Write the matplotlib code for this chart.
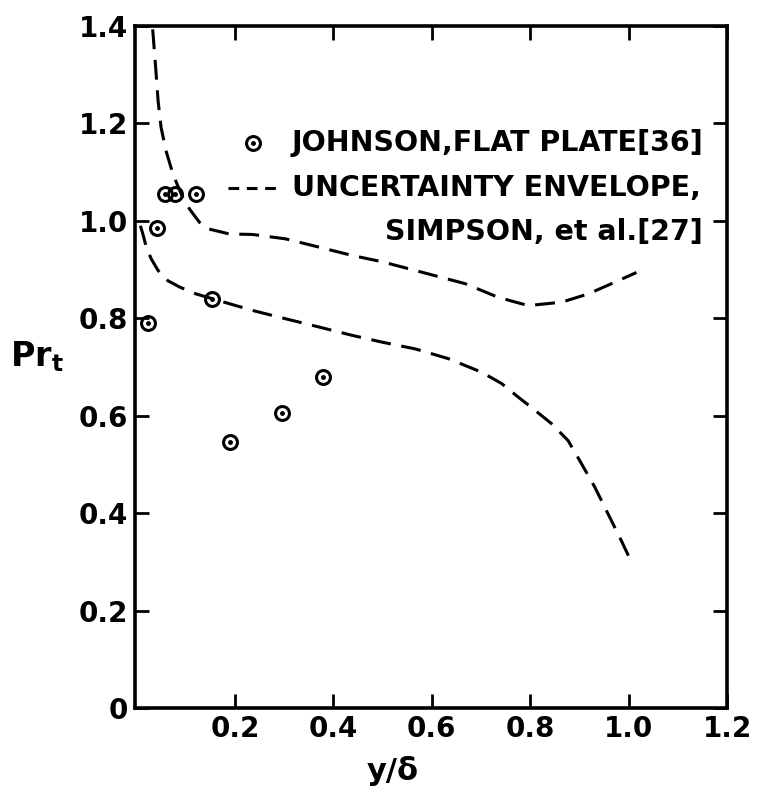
import matplotlib
matplotlib.use("Agg")
import matplotlib.pyplot as plt
from matplotlib.lines import Line2D

# Johnson, flat plate [36]
johnson_x = [0.023, 0.041, 0.058, 0.078, 0.122, 0.153, 0.19, 0.295, 0.38]
johnson_y = [0.79, 0.986, 1.055, 1.055, 1.055, 0.84, 0.545, 0.605, 0.68]

# uncertainty envelope, Simpson et al. [27]
upper_x = [0.033, 0.039, 0.044, 0.050, 0.060, 0.070, 0.081, 0.094, 0.108, 0.128,
           0.148, 0.189, 0.236, 0.303, 0.371, 0.438, 0.499, 0.567, 0.668, 0.735,
           0.796, 0.864, 0.918, 0.972, 1.016]
upper_y = [1.393, 1.315, 1.246, 1.192, 1.144, 1.110, 1.079, 1.048, 1.024, 0.997,
           0.983, 0.973, 0.972, 0.963, 0.946, 0.929, 0.916, 0.898, 0.871, 0.843,
           0.826, 0.833, 0.850, 0.874, 0.894]

lower_x = [0.008, 0.013, 0.020, 0.030, 0.044, 0.064, 0.088, 0.121, 0.168, 0.236,
           0.303, 0.371, 0.438, 0.499, 0.567, 0.634, 0.702, 0.742, 0.776, 0.810,
           0.843, 0.877, 0.904, 0.931, 0.958, 0.985, 1.007]
lower_y = [0.99, 0.973, 0.946, 0.922, 0.898, 0.877, 0.864, 0.850, 0.836, 0.816,
           0.799, 0.782, 0.765, 0.751, 0.737, 0.717, 0.689, 0.666, 0.638, 0.611,
           0.584, 0.549, 0.502, 0.454, 0.399, 0.344, 0.297]

xticks = [0.2, 0.4, 0.6, 0.8, 1.0, 1.2]
xtick_labels = ["0.2", "0.4", "0.6", "0.8", "1.0", "1.2"]
yticks = [0, 0.2, 0.4, 0.6, 0.8, 1.0, 1.2, 1.4]
ytick_labels = ["0", "0.2", "0.4", "0.6", "0.8", "1.0", "1.2", "1.4"]

plt.rcParams["font.family"] = ["DejaVu Sans"]
plt.rcParams["font.weight"] = "bold"

fig = plt.figure(figsize=(7.6, 7.99), dpi=100)
ax = fig.add_axes([0.1776, 0.1139, 0.7790, 0.8536])

dash = dict(color="black", lw=2.2, linestyle=(0, (6.5, 3.5)))
ax.plot(upper_x, upper_y, **dash)
ax.plot(lower_x, lower_y, **dash)

ax.plot(johnson_x, johnson_y, "o", ms=10, mfc="none", mec="black", mew=2.2,
        clip_on=False)
ax.plot(johnson_x, johnson_y, "o", ms=2.5, color="black", clip_on=False)

ax.set_xlim(-0.003, 1.2)
ax.set_ylim(0, 1.4)
ax.set_xticks(xticks)
ax.set_xticklabels(xtick_labels)
ax.set_yticks(yticks)
ax.set_yticklabels(ytick_labels)
ax.tick_params(direction="in", length=10, width=2, top=True, right=True,
               labelsize=20, pad=5)
for s in ax.spines.values():
    s.set_linewidth(2.6)

ax.set_xlabel("y/δ", fontsize=22, fontweight="bold")
ax.xaxis.set_label_coords(0.435, -0.07)
ax.set_ylabel("Pr$_\\mathbf{t}$", fontsize=24, fontweight="bold", rotation=0)
ax.yaxis.set_label_coords(-0.165, 0.49)

# legend drawn by hand so the dashed sample sits on the first text line
tr = ax.transAxes
ax.plot([0.199], [0.828], "o", ms=10, mfc="none", mec="black", mew=2.2,
        transform=tr)
ax.plot([0.199], [0.828], "o", ms=2.5, color="black", transform=tr)
ax.add_line(Line2D([0.157, 0.25], [0.762, 0.762], transform=tr, color="black",
                   lw=2.2, linestyle=(0, (3.5, 2.5))))
lkw = dict(transform=tr, fontsize=20.5, fontweight="bold", va="center")
ax.text(0.265, 0.828, "JOHNSON,FLAT PLATE[36]", ha="left", **lkw)
ax.text(0.265, 0.762, "UNCERTAINTY ENVELOPE,", ha="left", **lkw)
ax.text(0.959, 0.698, "SIMPSON, et al.[27]", ha="right", **lkw)

fig.savefig("out.png", dpi=100)
